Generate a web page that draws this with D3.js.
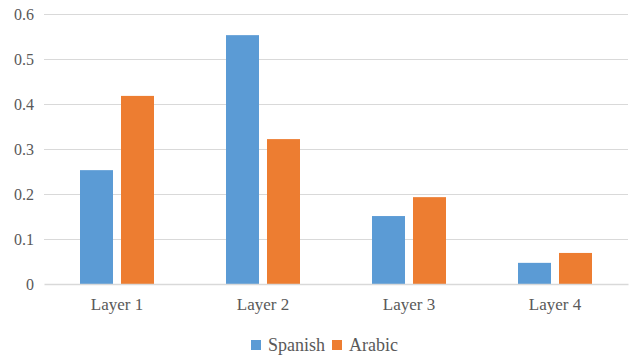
<!DOCTYPE html>
<html>
<head>
	<meta charset="UTF-8">
	<title>Spanish vs Arabic by layer</title>
	<style>
		body { margin: 0; background: #fff; }
		svg text { font-family: "Times New Roman", "Liberation Serif", serif; fill: #595959; }
	</style>
</head>
<body>
	<div class="chart"></div>

	<script src="https://d3js.org/d3.v7.min.js"></script>
	<script type="text/javascript">
		var categories = ["Layer 1", "Layer 2", "Layer 3", "Layer 4"];
		var seriesNames = ["Spanish", "Arabic"];
		var spanish = [0.253, 0.553, 0.151, 0.047];
		var arabic = [0.418, 0.322, 0.193, 0.069];
		var yTicks = [0, 0.1, 0.2, 0.3, 0.4, 0.5, 0.6];
		var colors = ["#5b9bd5", "#ed7d31"];
		var fontStack = "'Times New Roman', 'Liberation Serif', serif";

		var w = 635, h = 358;
		var plotLeft = 44, plotRight = 628, plotTop = 14, plotBottom = 284;

		var svg = d3.select("div.chart").append("svg")
			.attr("width", w)
			.attr("height", h);

		var x = d3.scaleBand()
			.domain(categories)
			.range([plotLeft, plotRight]);

		var y = d3.scaleLinear()
			.domain([0, 0.6])
			.range([plotBottom, plotTop]);

		/* inner group: two 33px bars with 8px gap */
		var inner = d3.scaleBand()
			.domain(seriesNames)
			.range([36, x.bandwidth() - 36])
			.paddingInner(8 / 41);

		/* grid lines */
		svg.append("g")
			.selectAll("line")
			.data(yTicks.slice(1))
			.enter().append("line")
			.attr("x1", plotLeft).attr("x2", plotRight)
			.attr("y1", function(d){ return Math.round(y(d)) + 0.5; })
			.attr("y2", function(d){ return Math.round(y(d)) + 0.5; })
			.attr("stroke", "#d9d9d9")
			.attr("stroke-width", 1);

		/* y labels */
		var yAxis = d3.axisLeft(y)
			.tickValues(yTicks)
			.tickSize(0)
			.tickPadding(10)
			.tickFormat(function(d){ return d === 0 ? "0" : d3.format(".1f")(d); });

		var gy = svg.append("g")
			.attr("class", "y-axis")
			.attr("transform", "translate(" + plotLeft + ",0)")
			.call(yAxis);
		gy.attr("font-family", null);
		gy.select(".domain").remove();
		gy.selectAll("text")
			.attr("font-family", fontStack)
			.style("font-size", "16px");

		/* bars */
		var data = [spanish, arabic];
		var groups = svg.append("g")
			.selectAll("g")
			.data(categories)
			.enter().append("g")
			.attr("transform", function(d){ return "translate(" + x(d) + ",0)"; });

		groups.selectAll("rect")
			.data(function(d, i){
				return seriesNames.map(function(s, j){ return {name: s, value: data[j][i], k: j}; });
			})
			.enter().append("rect")
			.attr("x", function(d){ return inner(d.name); })
			.attr("width", inner.bandwidth())
			.attr("y", function(d){ return y(d.value); })
			.attr("height", function(d){ return y(0) - y(d.value); })
			.attr("fill", function(d){ return colors[d.k]; });

		/* x axis */
		var xAxis = d3.axisBottom(x).tickSize(0).tickPadding(14);
		var gx = svg.append("g")
			.attr("class", "x-axis")
			.attr("transform", "translate(0," + plotBottom + ")")
			.call(xAxis);
		gx.attr("font-family", null);
		gx.select(".domain")
			.attr("stroke", "#d9d9d9")
			.attr("stroke-width", 1.5);
		gx.selectAll("text")
			.attr("font-family", fontStack)
			.style("font-size", "17px");

		/* legend */
		var legend = svg.append("g").attr("transform", "translate(251,340)");
		var lx = [0, 81];
		seriesNames.forEach(function(s, i){
			legend.append("rect")
				.attr("x", lx[i]).attr("y", 0)
				.attr("width", 10).attr("height", 10)
				.attr("fill", colors[i]);
			legend.append("text")
				.attr("x", lx[i] + 17).attr("y", 11)
				.attr("font-family", fontStack)
				.style("font-size", "18px")
				.text(s);
		});
	</script>
</body>
</html>
